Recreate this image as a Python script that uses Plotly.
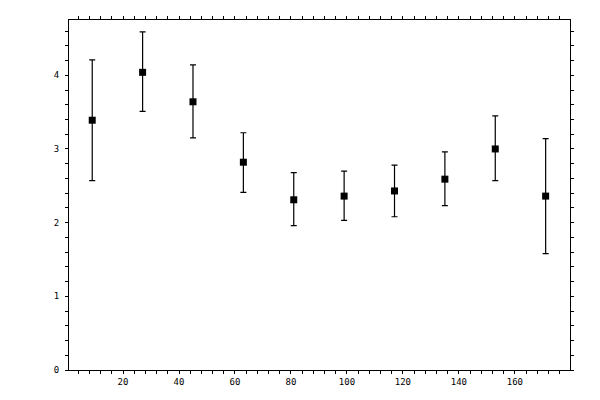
import plotly.graph_objects as go

bin_centres = [9, 27, 45, 63, 81, 99, 117, 135, 153, 171]
means = [3.39, 4.04, 3.64, 2.82, 2.31, 2.36, 2.43, 2.59, 3.00, 2.36]
upper = [4.21, 4.59, 4.14, 3.22, 2.68, 2.70, 2.78, 2.96, 3.45, 3.14]
lower = [2.57, 3.51, 3.15, 2.41, 1.96, 2.03, 2.08, 2.23, 2.57, 1.58]

err_plus = [u - m for u, m in zip(upper, means)]
err_minus = [m - l for m, l in zip(means, lower)]

x_range = [0.7, 179.7]
y_range = [0, 4.75]
font = dict(family="DejaVu Sans Mono", size=9, color="black")

fig = go.Figure()
fig.add_trace(go.Scatter(
    x=bin_centres, y=means,
    mode="markers",
    marker=dict(symbol="square", size=7, color="black"),
    error_y=dict(type="data", symmetric=False, array=err_plus, arrayminus=err_minus,
                 color="black", thickness=1.2, width=3),
    showlegend=False,
))

# main axes: labels, outside ticks, minor ticks
axis_common = dict(showline=True, linecolor="black", linewidth=1, mirror="ticks",
                   ticks="outside", ticklen=3, tickcolor="black", tickwidth=1,
                   showgrid=False, zeroline=False, tickfont=font, automargin=False)
fig.update_layout(
    # page body has an 8px margin, so the figure is sized to fit inside it
    width=584, height=384,
    margin=dict(l=61, r=22, t=12, b=22),
    plot_bgcolor="white", paper_bgcolor="white",
    xaxis=dict(range=x_range, tick0=0, dtick=20,
               minor=dict(ticks="outside", ticklen=3, dtick=4, tickcolor="black", showgrid=False),
               **axis_common),
    yaxis=dict(range=y_range, tick0=0, dtick=1,
               minor=dict(ticks="outside", ticklen=3, dtick=0.2, tickcolor="black", showgrid=False),
               ticklabelstandoff=4, **axis_common),
    # overlay axes so major ticks cross the frame
    xaxis2=dict(overlaying="x", range=x_range, tick0=0, dtick=20, ticks="inside", ticklen=4,
                tickcolor="black", showticklabels=False, showline=False, showgrid=False,
                zeroline=False, mirror="ticks", automargin=False),
    yaxis2=dict(overlaying="y", range=y_range, tick0=0, dtick=1, ticks="inside", ticklen=4,
                tickcolor="black", showticklabels=False, showline=False, showgrid=False,
                zeroline=False, mirror="ticks", automargin=False),
)

fig.write_html("out.html")
